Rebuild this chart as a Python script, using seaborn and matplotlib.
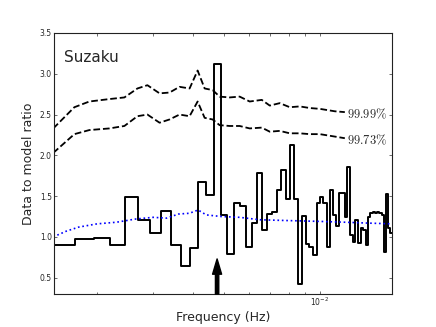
import numpy as np
import pandas as pd
import seaborn as sns
import matplotlib
matplotlib.use("Agg")
import matplotlib.pyplot as plt

# data-to-model ratio, binned (left bin edges in mHz, last entry is the right edge)
bin_edges_mhz = [1.2207, 1.4648, 1.7090, 1.9531, 2.1973, 2.4414, 2.6855, 2.9297,
                 3.1738, 3.4180, 3.6621, 3.9063, 4.1504, 4.3945, 4.6387, 4.8828,
                 5.1270, 5.3711, 5.6152, 5.8594, 6.1035, 6.3477, 6.5918, 6.8359,
                 7.0801, 7.3242, 7.5684, 7.8125, 8.0566, 8.3008, 8.5449, 8.7891,
                 9.0332, 9.2773, 9.5215, 9.7656, 10.0098, 10.2539, 10.4980, 10.7422,
                 10.9863, 11.2305, 11.4746, 11.7188, 11.9629, 12.2070, 12.4512, 12.6953,
                 12.9395, 13.1836, 13.4277, 13.6719, 13.9160, 14.1602, 14.4043, 14.6484,
                 14.8926, 15.1367, 15.3809, 15.6250, 15.8691, 16.1133, 16.3574, 16.6016,
                 16.8457]
ratio = [0.68, 0.90, 0.98, 0.99, 0.90, 1.49, 1.21, 1.05,
         1.32, 0.90, 0.64, 0.86, 1.67, 1.51, 3.12, 1.27,
         0.79, 1.42, 1.38, 0.88, 1.17, 1.78, 1.09, 1.28,
         1.30, 1.58, 1.82, 1.46, 2.13, 1.46, 0.42, 1.26,
         0.91, 0.88, 0.78, 1.42, 1.49, 1.42, 0.88, 1.58,
         1.27, 1.13, 1.54, 1.54, 1.24, 1.86, 1.02, 0.94,
         1.21, 0.93, 1.11, 1.09, 0.90, 1.25, 1.29, 1.30,
         1.29, 1.30, 1.29, 1.27, 0.82, 1.53, 1.11, 1.05]

# model curve (blue dotted)
model_freq = [1.457e-3, 1.6e-3, 1.75e-3, 2.0e-3, 2.3e-3, 2.65e-3, 3.0e-3, 3.3e-3,
              3.6e-3, 3.9e-3, 4.15e-3, 4.4e-3, 4.9e-3, 5.6e-3, 6.5e-3, 8.0e-3,
              1.0e-2, 1.2e-2, 1.4e-2, 1.685e-2]
model_ratio = [1.00, 1.07, 1.12, 1.16, 1.18, 1.22, 1.24, 1.23,
               1.28, 1.29, 1.33, 1.27, 1.25, 1.24, 1.21, 1.20,
               1.19, 1.18, 1.17, 1.16]

# significance levels (dashed)
lev_freq = [1.457e-3, 1.697e-3, 1.891e-3, 2.186e-3, 2.436e-3, 2.677e-3, 2.877e-3,
            3.141e-3, 3.376e-3, 3.628e-3, 3.902e-3, 4.135e-3, 4.350e-3, 4.608e-3,
            4.848e-3, 5.212e-3, 5.603e-3, 6.024e-3, 6.573e-3, 6.965e-3, 7.486e-3,
            8.049e-3, 8.651e-3, 9.302e-3, 1.0e-2, 1.115e-2, 1.198e-2]
lev_9999 = [2.33, 2.59, 2.66, 2.69, 2.71, 2.82, 2.86,
            2.76, 2.77, 2.84, 2.82, 3.04, 2.82, 2.80,
            2.72, 2.71, 2.72, 2.66, 2.68, 2.61, 2.64,
            2.59, 2.60, 2.58, 2.57, 2.54, 2.53]
lev_9973 = [2.03, 2.26, 2.31, 2.33, 2.36, 2.48, 2.50,
            2.40, 2.44, 2.50, 2.48, 2.66, 2.46, 2.44,
            2.37, 2.36, 2.36, 2.33, 2.34, 2.29, 2.30,
            2.27, 2.27, 2.26, 2.26, 2.23, 2.21]
lev_labels = ["99.99\\%", "99.73\\%"]

qpo_freq = 4.76e-3

sns.set_style("ticks")
plt.rcParams["font.family"] = ["DejaVu Sans"]

fig = plt.figure(figsize=(4.36, 3.27), dpi=100)
ax = fig.add_axes([54 / 436, 33 / 327, 338 / 436, 261 / 327])

step_df = pd.DataFrame({"freq": np.array(bin_edges_mhz) / 1000.0,
                        "ratio": ratio + [ratio[-1]]})
sns.lineplot(data=step_df, x="freq", y="ratio", ax=ax, color="black", lw=1.4,
             drawstyle="steps-post", estimator=None, sort=False)

sns.lineplot(x=model_freq, y=model_ratio, ax=ax, color="blue", lw=1.2,
             linestyle=":", estimator=None, sort=False)

for lev, lab in zip([lev_9999, lev_9973], lev_labels):
    sns.lineplot(x=lev_freq, y=lev, ax=ax, color="black", lw=1.3,
                 linestyle="--", estimator=None, sort=False)
    ax.text(lev_freq[-1] * 1.015, lev[-1] - 0.02, "$" + lab + "$",
            ha="left", va="center", fontsize=9, math_fontfamily="cm")

ax.annotate("", xy=(qpo_freq, 0.73), xytext=(qpo_freq, 0.30),
            arrowprops=dict(facecolor="black", edgecolor="black", width=2.4,
                            headwidth=6.5, headlength=11, shrink=0))

ax.set_xscale("log")
ax.set_xlim(1.4648e-3, 1.6846e-2)
ax.set_ylim(0.3, 3.5)
ax.set_yticks([0.5, 1.0, 1.5, 2.0, 2.5, 3.0, 3.5])

ax.text(0.03, 0.89, "Suzaku", transform=ax.transAxes, fontsize=11,
        ha="left", va="baseline")

ax.set_xlabel("Frequency (Hz)", fontsize=9)
ax.set_ylabel("Data to model ratio", fontsize=9)
ax.xaxis.set_label_coords(0.5, -0.065)
ax.yaxis.set_label_coords(-0.056, 0.5)

for s in ax.spines.values():
    s.set_linewidth(0.8)
    s.set_color("#222222")
ax.tick_params(which="both", direction="in", top=True, right=True,
               labelsize=5.5, width=0.5, color="#333333", pad=1.5)
ax.tick_params(which="major", length=2.5)
ax.tick_params(which="minor", length=1.8)

fig.savefig("out.png", dpi=100)
